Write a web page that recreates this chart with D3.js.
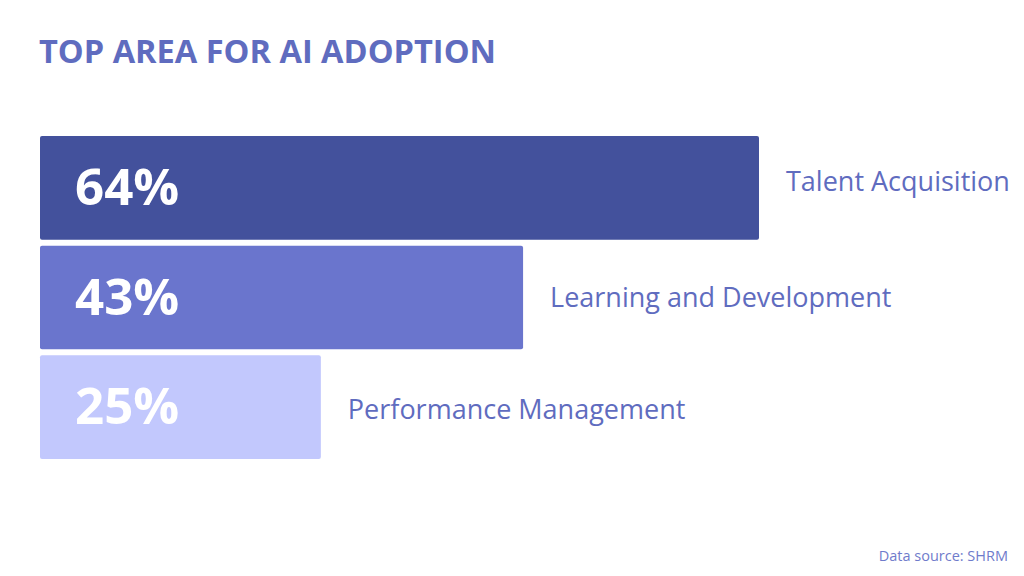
<!DOCTYPE html>
<html><head><meta charset="utf-8">
<script src="https://cdn.jsdelivr.net/npm/d3@7"></script>
<style>body{margin:0;background:#fff;}svg{display:block;}</style>
</head><body>
<script>
const categories = ["Talent Acquisition", "Learning and Development", "Performance Management"];
const values = [64, 43, 25];
const colors = ["#43519c", "#6a75cd", "#c2c8fd"];
const title = "TOP AREA FOR AI ADOPTION";
const source = "Data source: SHRM";

const W = 1024, H = 576;
const svg = d3.select("body").append("svg").attr("width", W).attr("height", H);
svg.append("rect").attr("width", W).attr("height", H).attr("fill", "#fff");

const x = d3.scaleLinear().domain([0, 64]).range([40, 759]);
const y = d3.scaleBand().domain(categories).range([136, 459]).paddingInner(0.055).paddingOuter(0);

svg.append("text").attr("x", 39).attr("y", 63)
  .attr("font-family", "Open Sans").attr("font-weight", 700).attr("font-size", 32)
  .attr("textLength", 457).attr("lengthAdjust", "spacingAndGlyphs")
  .attr("fill", "#5f6cbf").text(title);

const labelShift = [3, 9, 12];
const g = svg.selectAll("g.bar").data(categories).enter().append("g");
g.append("rect")
  .attr("x", x(0)).attr("y", d => y(d))
  .attr("width", (d, i) => x(values[i]) - x(0)).attr("height", y.bandwidth())
  .attr("rx", 2).attr("fill", (d, i) => colors[i]);
g.append("text")
  .attr("x", 75).attr("y", d => y(d) + y.bandwidth() / 2 + 17)
  .attr("font-family", "Open Sans").attr("font-weight", 700).attr("font-size", 51)
  .attr("fill", "#fff").text((d, i) => values[i] + "%");
g.append("text")
  .attr("x", (d, i) => x(values[i]) + 27).attr("y", (d, i) => y(d) + y.bandwidth() / 2 + labelShift[i])
  .attr("font-family", "Open Sans").attr("font-size", 27)
  .attr("fill", "#5f6cbf").text(d => d);

svg.append("text").attr("x", 1008).attr("y", 561).attr("text-anchor", "end")
  .attr("font-family", "Open Sans").attr("font-size", 14.5)
  .attr("fill", "#6f7bcb").text(source);
</script>
</body></html>
